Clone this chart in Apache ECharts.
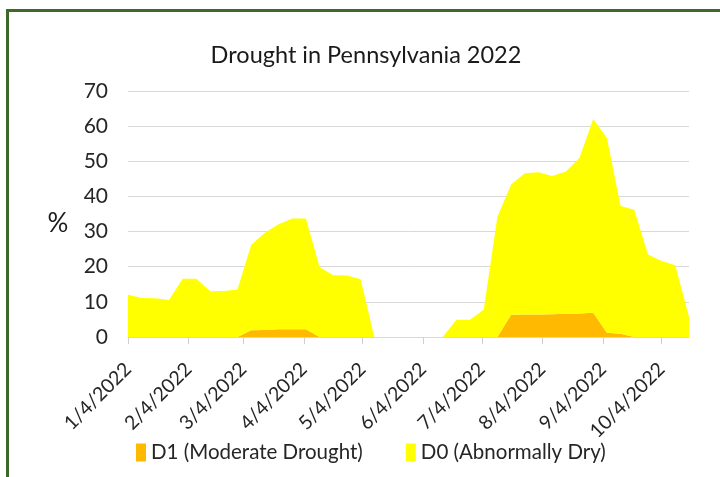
<!DOCTYPE html>
<html>
<head>
<meta charset="utf-8">
<script src="https://cdn.jsdelivr.net/npm/echarts@6/dist/echarts.min.js"></script>
<style>
html,body{margin:0;padding:0;background:#fff;}
#chart{width:720px;height:477px;}
</style>
</head>
<body>
<div id="chart"></div>
<script>
// Weekly US Drought Monitor dates (Tuesdays)
const weekDates = [
  "2022-01-04","2022-01-11","2022-01-18","2022-01-25","2022-02-01","2022-02-08","2022-02-15","2022-02-22",
  "2022-03-01","2022-03-08","2022-03-15","2022-03-22","2022-03-29","2022-04-05","2022-04-12","2022-04-19",
  "2022-04-26","2022-05-03","2022-05-10","2022-05-17","2022-05-24","2022-05-31","2022-06-07","2022-06-14",
  "2022-06-21","2022-06-28","2022-07-05","2022-07-12","2022-07-19","2022-07-26","2022-08-02","2022-08-09",
  "2022-08-16","2022-08-23","2022-08-30","2022-09-06","2022-09-13","2022-09-20","2022-09-27","2022-10-04",
  "2022-10-11","2022-10-18"
];
// D1 (Moderate Drought), % area
const d1Values = [
  0,0,0,0,0,0,0,0,
  0,1.9,2.0,2.2,2.2,2.2,0,0,
  0,0,0,0,0,0,0,0,
  0,0,0,0,6.3,6.4,6.4,6.5,
  6.6,6.7,6.9,1.2,0.9,0,0,0,
  0,0
];
// D0 (Abnormally Dry), % area, stacked above D1
const d0Values = [
  12.0,11.1,11.0,10.5,16.6,16.6,13.0,13.1,
  13.5,24.3,27.7,29.9,31.5,31.5,19.9,17.6,
  17.5,16.4,0,0,0,0,0,0,
  4.9,4.9,7.8,34.2,37.1,40.2,40.5,39.3,
  40.5,44.3,55.1,55.4,36.4,36.2,23.5,21.6,
  20.4,5.7
];
// Monthly tick labels on the date axis
const tickLabels = ["1/4/2022","2/4/2022","3/4/2022","4/4/2022","5/4/2022","6/4/2022","7/4/2022","8/4/2022","9/4/2022","10/4/2022"];
const seriesNames = ["D1 (Moderate Drought)","D0 (Abnormally Dry)"];

function isoToTs(s){const p=s.split('-').map(Number);return Date.UTC(p[0],p[1]-1,p[2]);}
function mdyToTs(s){const p=s.split('/').map(Number);return Date.UTC(p[2],p[0]-1,p[1]);}
const xs = weekDates.map(isoToTs);
const tickTs = tickLabels.map(mdyToTs);
const labelMap = {};
tickTs.forEach((t,i)=>labelMap[t]=tickLabels[i]);

const FONT = "Lato";
const chart = echarts.init(document.getElementById('chart'), null, {renderer:'canvas'});
chart.setOption({
  backgroundColor:'#ffffff',
  animation:false,
  legend:{
    bottom:14, left:136, padding:0,
    itemWidth:10, itemHeight:18, itemGap:43,
    icon:'rect',
    textStyle:{fontFamily:FONT,fontSize:20.5,color:'#262626'},
    data:seriesNames
  },
  grid:{left:128,right:31,top:91,bottom:140,containLabel:false},
  xAxis:[
    {
      // time axis carrying the data (stacking by date)
      type:'time',
      min:xs[0], max:xs[xs.length-1],
      axisLine:{show:true,lineStyle:{color:'#d9d9d9',width:1}},
      axisTick:{show:false},
      axisLabel:{show:false},
      splitLine:{show:false}
    },
    {
      // label axis with the monthly date ticks
      type:'value', position:'bottom',
      min:xs[0], max:xs[xs.length-1],
      axisLine:{show:false},
      axisTick:{show:true,length:7,customValues:tickTs,lineStyle:{color:'#d0d0d0'}},
      splitLine:{show:false},
      axisLabel:{
        customValues:tickTs,
        rotate:45,
        fontFamily:FONT,fontSize:19.5,color:'#262626',margin:29,
        formatter:function(v){return labelMap[v]||'';}
      }
    }
  ],
  yAxis:{
    type:'value', min:0, max:70, interval:10,
    axisLine:{show:false}, axisTick:{show:false},
    axisLabel:{fontFamily:FONT,fontSize:21,color:'#262626',margin:20},
    splitLine:{lineStyle:{color:'#d9d9d9',width:1}}
  },
  series:[
    {
      name:seriesNames[0], type:'line', stack:'dr', symbol:'none', xAxisIndex:0,
      lineStyle:{width:0}, itemStyle:{color:'#ffb900'},
      areaStyle:{color:'#ffb900',opacity:1},
      data:xs.map((x,i)=>[x,d1Values[i]])
    },
    {
      name:seriesNames[1], type:'line', stack:'dr', symbol:'none', xAxisIndex:0,
      lineStyle:{width:0}, itemStyle:{color:'#ffff00'},
      areaStyle:{color:'#ffff00',opacity:1},
      data:xs.map((x,i)=>[x,d0Values[i]])
    }
  ],
  graphic:[
    {
      type:'text', x:366, y:55, silent:true,
      style:{text:'Drought in Pennsylvania 2022',fontFamily:FONT,fontSize:23.5,fill:'#1a1a1a',
        align:'center',verticalAlign:'middle'}
    },
    {
      type:'text', x:58, y:224, silent:true,
      style:{text:'%',fontFamily:FONT,fontSize:26,fill:'#1a1a1a',align:'center',verticalAlign:'middle'}
    },
    {
      type:'rect', silent:true, z:100,
      shape:{x:7.5,y:10.5,width:730,height:480},
      style:{fill:null,stroke:'#3d6a2a',lineWidth:3}
    }
  ]
});
</script>
</body>
</html>
